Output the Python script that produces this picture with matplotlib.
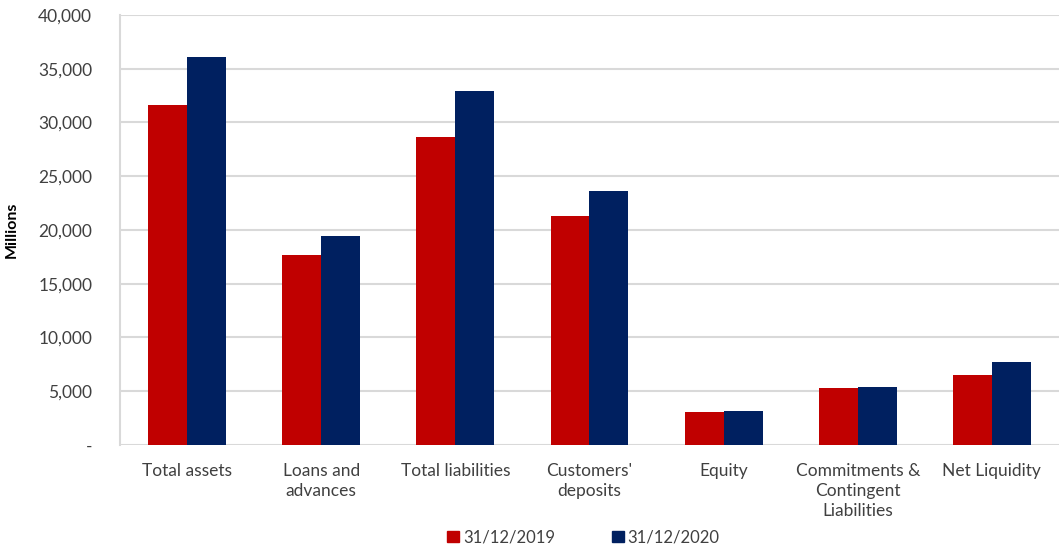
import numpy as np
import matplotlib.pyplot as plt
from matplotlib.patches import Patch
from matplotlib.ticker import FuncFormatter

categories = ["Total assets", "Loans and\nadvances", "Total liabilities",
              "Customers'\ndeposits", "Equity",
              "Commitments &\nContingent\nLiabilities", "Net Liquidity"]
vals_2019 = [31650, 17700, 28650, 21300, 3050, 5300, 6500]
vals_2020 = [36100, 19450, 32930, 23630, 3150, 5400, 7720]
series_names = ["31/12/2019", "31/12/2020"]
yticks = [0, 5000, 10000, 15000, 20000, 25000, 30000, 35000, 40000]

red = "#C00000"
navy = "#002060"
plt.rcParams['font.family'] = ['Lato', 'DejaVu Sans']

fig = plt.figure(figsize=(10.59, 5.45), dpi=100)
ax = fig.add_axes([0.1133, 0.1835, 0.8867, 0.789])

x = np.arange(len(categories))
w = 0.29
ax.bar(x - w / 2, vals_2019, w, color=red, zorder=3)
ax.bar(x + w / 2, vals_2020, w, color=navy, zorder=3)

ax.set_xlim(-0.5, len(categories) - 0.5)
ax.set_ylim(0, 40000)
ax.set_yticks(yticks)
ax.yaxis.set_major_formatter(FuncFormatter(lambda v, p: "-" if v == 0 else f"{v:,.0f}"))
ax.grid(axis="y", color="#D9D9D9", linewidth=1.5, zorder=0)
ax.set_xticks(x)
ax.set_xticklabels(categories, fontsize=12.5, color="#404040", linespacing=1.3)
ax.tick_params(axis="y", labelsize=12.5, labelcolor="#404040", length=0, pad=20)
ax.tick_params(axis="x", length=0, pad=13)
for s in ["top", "right", "bottom"]:
    ax.spines[s].set_visible(False)
ax.spines["left"].set_color("#D9D9D9")
ax.spines["left"].set_linewidth(1.5)
ax.set_ylabel("Millions", fontsize=11.5, fontweight="bold", labelpad=14)

handles = [Patch(color=red), Patch(color=navy)]
fig.legend(handles, series_names, loc="lower center", bbox_to_anchor=(0.551, -0.028),
           ncol=2, frameon=False, fontsize=12, handlelength=0.7, handleheight=0.7,
           handletextpad=0.25, columnspacing=3.4, labelcolor="#404040")

fig.savefig("out.png", dpi=100)
